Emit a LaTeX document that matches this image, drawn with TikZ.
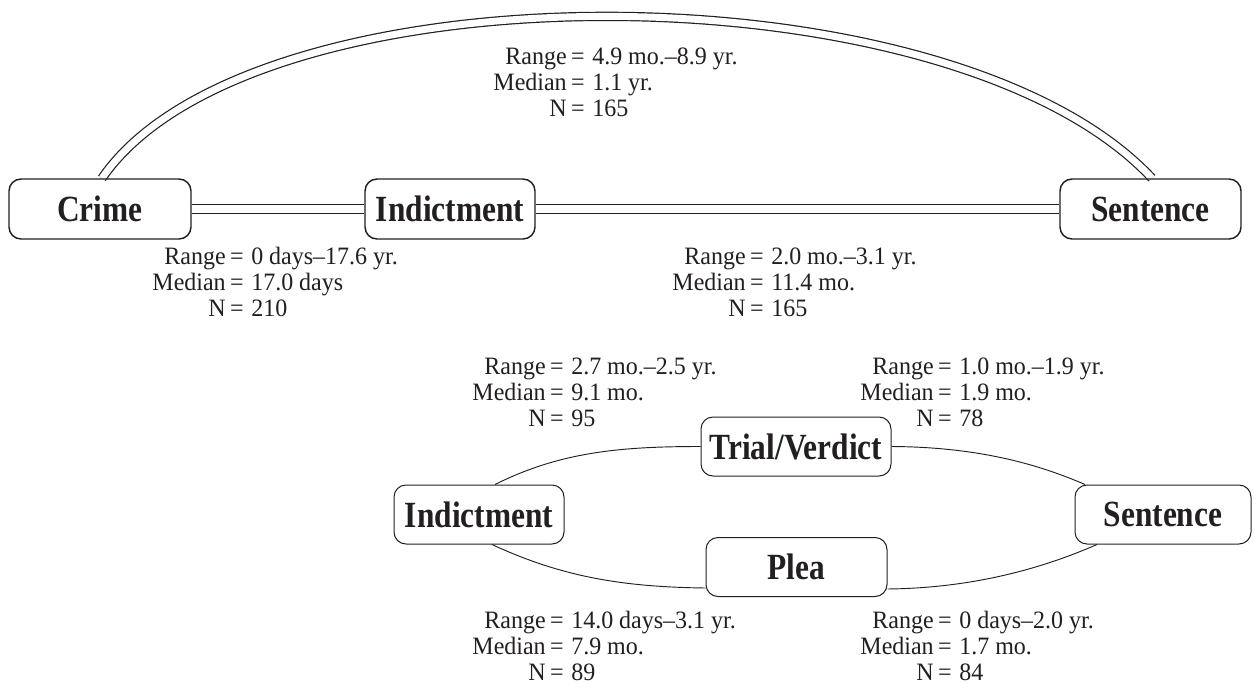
\documentclass[tikz,border=0pt]{standalone}
\usepackage{fontspec}
\setmainfont{Liberation Serif}
\newfontfamily\labfont{Liberation Serif}[FakeStretch=0.96]
\newfontfamily\boxfont{Liberation Serif}[FakeStretch=0.85]
\usetikzlibrary{calc}
\definecolor{ink}{HTML}{231F20}
\pgfdeclarelayer{bg}
\pgfsetlayers{bg,main}
\tikzset{
  stage/.style={draw=ink, rounded corners=9pt, inner sep=0pt, text=ink,
    font={\boxfont\bfseries\fontsize{27.7pt}{30pt}\selectfont}},
  bigstage/.style={stage, line width=1.1pt, minimum height=45pt},
  smallstage/.style={stage, line width=0.75pt, minimum height=44.25pt},
  lab/.style={inner sep=0pt, text=ink, font={\labfont\fontsize{18.75pt}{22pt}\selectfont}},
  dbl/.style={draw=ink, line width=0.9pt, double=white, double distance=6pt},
  dblarc/.style={draw=ink, line width=0.9pt, double=white, double distance=5.2pt},
  thin/.style={draw=ink, line width=0.7pt},
}
\newcommand\statblock[6]{%
  \node[lab,anchor=base east] (#1ra) at (#2-11,#3) {Range};
  \node[lab,anchor=base] (#1re) at (#2,#3) {=};
  \node[lab,anchor=base west] (#1rv) at (#2+14,#3) {#4};
  \node[lab,anchor=base east] (#1ma) at (#2-11,#3+26) {Median};
  \node[lab,anchor=base] (#1me) at (#2,#3+26) {=};
  \node[lab,anchor=base west] (#1mv) at (#2+14,#3+26) {#5};
  \node[lab,anchor=base east] (#1na) at (#2-11,#3+52) {N};
  \node[lab,anchor=base] (#1ne) at (#2,#3+52) {=};
  \node[lab,anchor=base west] (#1nv) at (#2+14,#3+52) {#6};
}
\begin{document}
\begin{tikzpicture}[x=0.75pt,y=-0.75pt]
\useasboundingbox (0,0) rectangle (1254,689);

% top row
\node[bigstage, minimum width=136.5pt] (crime) at (100,209) {Crime};
\node[bigstage, minimum width=127.5pt] (ind1) at (450,209) {Indictment};
\node[bigstage, minimum width=135.75pt] (sen1) at (1150.5,209) {Sentence};

% lower group
\node[smallstage, minimum width=142.5pt] (trial) at (796,446.5) {Trial/Verdict};
\node[smallstage, minimum width=127.5pt] (ind2) at (479,514.5) {Indictment};
\node[smallstage, minimum width=132pt] (sen2) at (1163,514.5) {Sentence};
\node[smallstage, minimum width=135.75pt] (plea) at (796.5,567) {Plea};

\begin{pgfonlayer}{bg}
\fill[white] (0,0) rectangle (1254,689);
\draw[dbl] (crime.east) -- (ind1.west);
\draw[dbl] (ind1.east) -- (sen1.west);
\draw[dblarc] ($(crime.north)+(2,0)$) .. controls (250,-37.6) and (950,-37.6) .. ($(sen1.north)+(1.5,0)$);

\draw[thin] ($(ind2.north)+(16,0)$) .. controls (560,452) and (620,446.5) .. (trial.west);
\draw[thin] (trial.east) .. controls (980,447) and (1040,465) .. ($(sen2.north)+(-78,0)$);
\draw[thin] ($(ind2.south)+(13,0)$) .. controls (560,576) and (620,587) .. ($(plea.south west)+(0,-9)$);
\draw[thin] ($(plea.south east)+(0,-8)$) .. controls (980,588) and (1050,565) .. ($(sen2.south)+(-66,0)$);
\end{pgfonlayer}

\statblock{top}{578}{64}{4.9 mo.–8.9 yr.}{1.1 yr.}{165}
\statblock{ci}{237}{264}{0 days–17.6 yr.}{17.0 days}{210}
\statblock{is}{757}{264}{2.0 mo.–3.1 yr.}{11.4 mo.}{165}
\statblock{it}{557}{374}{2.7 mo.–2.5 yr.}{9.1 mo.}{95}
\statblock{ts}{945}{374}{1.0 mo.–1.9 yr.}{1.9 mo.}{78}
\statblock{ip}{557}{628}{14.0 days–3.1 yr.}{7.9 mo.}{89}
\statblock{ps}{945}{628}{0 days–2.0 yr.}{1.7 mo.}{84}
\end{tikzpicture}
\end{document}
